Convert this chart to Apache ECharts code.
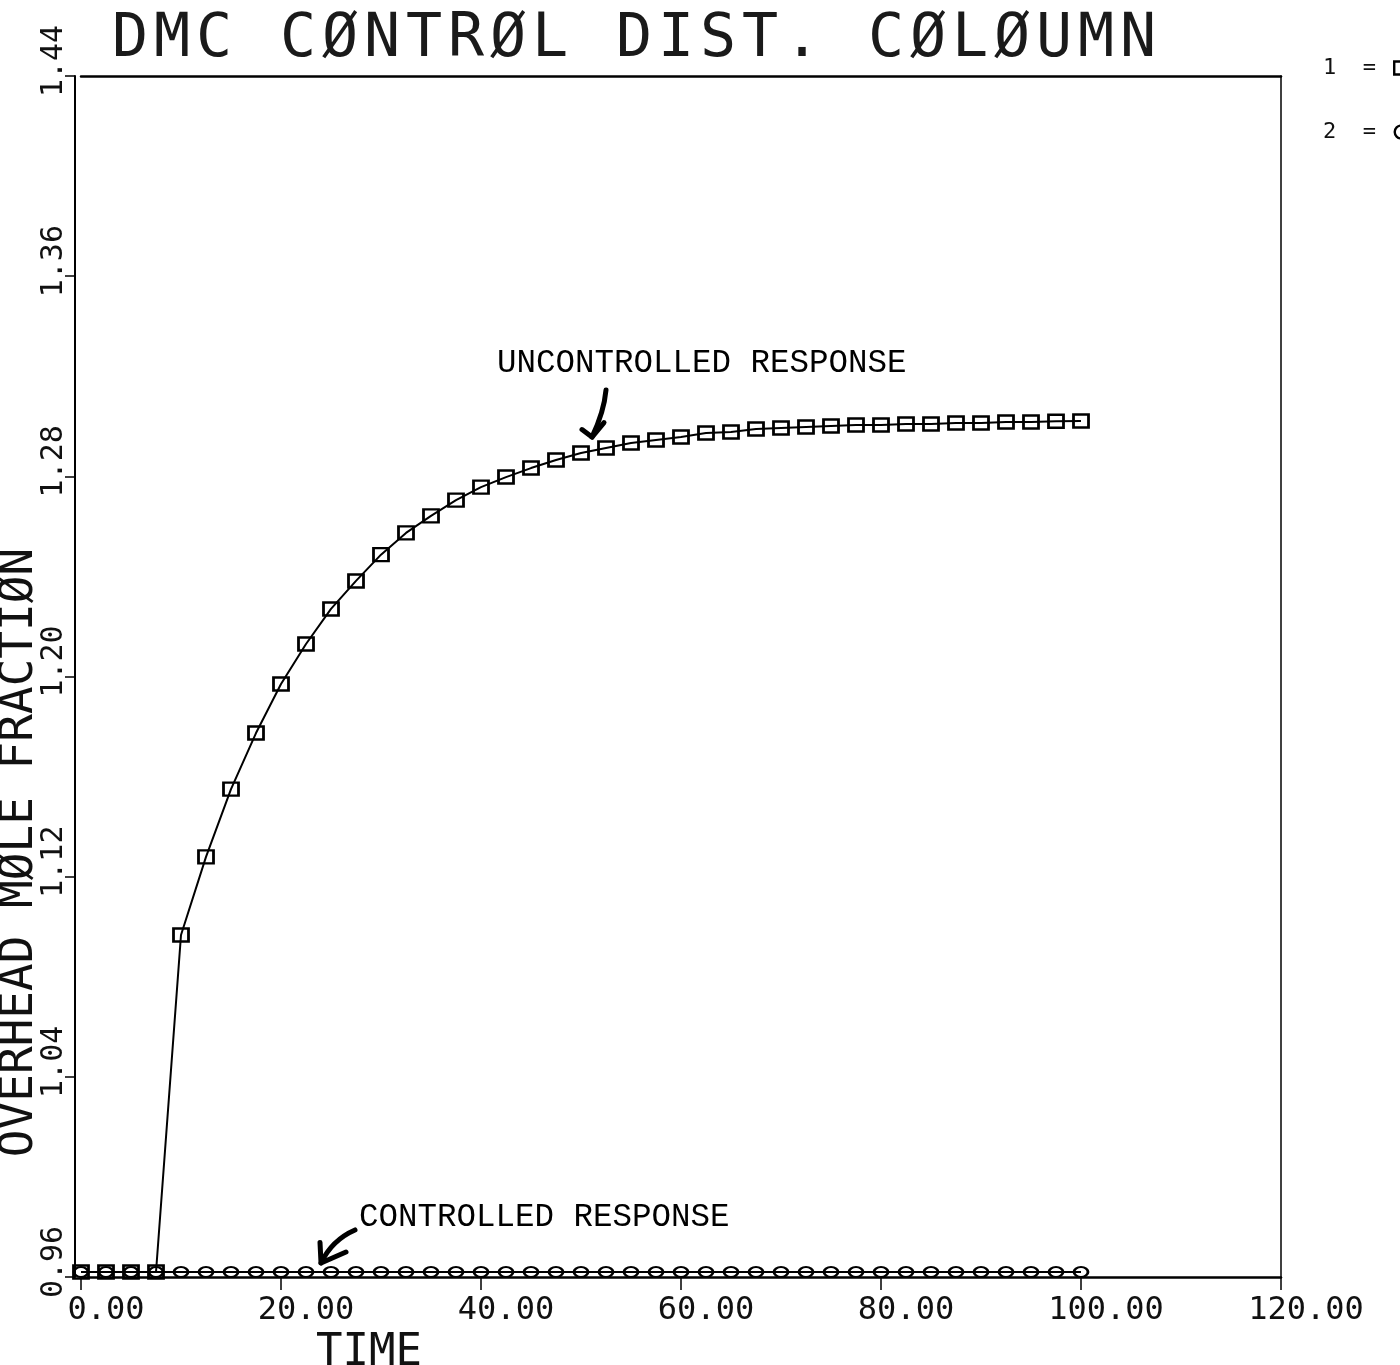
<!DOCTYPE html>
<html>
<head>
<meta charset="utf-8">
<title>DMC CONTROL DIST. COLOUMN</title>
<script src="https://cdn.jsdelivr.net/npm/echarts@6/dist/echarts.min.js"></script>
<style>
  html, body { margin: 0; padding: 0; background: #fff; }
  #chart { width: 1400px; height: 1365px; }
</style>
</head>
<body>
<div id="chart"></div>
<script>
// Sample times (every 2.5 time units)
const timeValues = [0, 2.5, 5, 7.5, 10, 12.5, 15, 17.5, 20, 22.5, 25, 27.5, 30, 32.5, 35, 37.5, 40,
  42.5, 45, 47.5, 50, 52.5, 55, 57.5, 60, 62.5, 65, 67.5, 70, 72.5, 75, 77.5, 80, 82.5, 85, 87.5,
  90, 92.5, 95, 97.5, 100];

// Overhead mole fraction without control (curve 1)
const uncontrolled = [0.962, 0.962, 0.962, 0.962, 1.0967, 1.1279, 1.1550, 1.1774, 1.1970, 1.2130,
  1.2270, 1.2382, 1.2487, 1.2574, 1.2642, 1.2705, 1.2757, 1.2797, 1.2833, 1.2865, 1.2893, 1.2913,
  1.2933, 1.2945, 1.2957, 1.2973, 1.2977, 1.2989, 1.2993, 1.2997, 1.3001, 1.3005, 1.3005, 1.3009,
  1.3009, 1.3013, 1.3013, 1.3017, 1.3017, 1.3020, 1.3021];

// Overhead mole fraction with DMC control (curve 2)
const controlled = [0.962, 0.962, 0.962, 0.962, 0.962, 0.962, 0.962, 0.962, 0.962, 0.962, 0.962,
  0.962, 0.962, 0.962, 0.962, 0.962, 0.962, 0.962, 0.962, 0.962, 0.962, 0.962, 0.962, 0.962,
  0.962, 0.962, 0.962, 0.962, 0.962, 0.962, 0.962, 0.962, 0.962, 0.962, 0.962, 0.962, 0.962,
  0.962, 0.962, 0.962, 0.962];

const seriesNames = ['UNCONTROLLED RESPONSE', 'CONTROLLED RESPONSE'];
const legendLabels = ['1  = ', '2  = '];
const xTickLabels = ['0.00', '20.00', '40.00', '60.00', '80.00', '100.00', '120.00'];
const yTickLabels = ['0.96', '1.04', '1.12', '1.20', '1.28', '1.36', '1.44'];
const chartTitle = 'DMC CØNTRØL DIST. CØLØUMN';

// Annotation callouts, in data units (time, mole fraction)
const upperNote = { text: 'UNCONTROLLED RESPONSE', at: [41.6, 1.3253],
  shaft: [[52.5, 1.3145], [52.3, 1.3057], [51.1, 1.2957]],
  head: [[50.1, 1.2987], [51.1, 1.2957], [52.3, 1.3015]] };
const lowerNote = { text: 'CONTROLLED RESPONSE', at: [27.8, 0.9840],
  shaft: [[27.4, 0.9788], [25.1, 0.9748], [24.0, 0.9656]],
  head: [[23.9, 0.9738], [24.0, 0.9656], [26.5, 0.9700]] };

const plotFont = 'DejaVu Sans Mono';
const noteFont = 'Liberation Mono';

const chart = echarts.init(document.getElementById('chart'), null, { renderer: 'canvas' });

const pairs = (ys) => timeValues.map((t, i) => [t, ys[i]]);
// Plotter-style title: every character sits on a fixed 42px pitch
const pitched = (s) => s.split('').map((c) => '{c|' + c + '}').join('');

chart.setOption({
  animation: false,
  backgroundColor: '#fff',
  title: {
    text: pitched(chartTitle),
    left: 104,
    top: 5,
    textStyle: {
      fontFamily: plotFont, fontSize: 60, fontWeight: 'normal', color: '#1a1a1a',
      rich: { c: { width: 42, align: 'center', fontFamily: plotFont, fontSize: 60, color: '#1a1a1a' } }
    }
  },
  legend: {
    orient: 'vertical',
    left: 1318,
    top: 52,
    align: 'right',
    itemGap: 42,
    itemWidth: 14,
    itemHeight: 13,
    data: [{ name: seriesNames[0], icon: 'rect' }, { name: seriesNames[1], icon: 'circle' }],
    itemStyle: { color: 'rgba(255,255,255,0)', borderColor: '#000', borderWidth: 2.4 },
    formatter: (name) => legendLabels[seriesNames.indexOf(name)],
    textStyle: { fontFamily: plotFont, fontSize: 22, color: '#111' }
  },
  grid: { left: 81, right: 119, top: 76, bottom: 88, containLabel: false, outerBoundsMode: 'none' },
  xAxis: [{
    type: 'value',
    min: 0, max: 120, interval: 20,
    name: 'TIME',
    nameLocation: 'middle',
    nameGap: 46,
    nameTextStyle: { fontFamily: plotFont, fontSize: 44, color: '#111', padding: [0, 624, 0, 0] },
    axisLine: { show: true, onZero: false, lineStyle: { color: '#000', width: 2.5 } },
    axisTick: { show: true, inside: false, length: 13, lineStyle: { color: '#000', width: 1.5 } },
    axisLabel: {
      margin: 18,
      fontFamily: plotFont, fontSize: 32, color: '#111',
      padding: [0, 0, 0, 50],
      formatter: (v) => xTickLabels[Math.round(v / 20)]
    },
    splitLine: { show: false }
  }, {
    type: 'value', position: 'top', min: 0, max: 120,
    axisLine: { show: true, onZero: false, lineStyle: { color: '#000', width: 2.5 } },
    axisTick: { show: false }, axisLabel: { show: false }, splitLine: { show: false }
  }],
  yAxis: [{
    type: 'value',
    min: 0.96, max: 1.44, interval: 0.08,
    offset: 6,
    name: 'OVERHEAD MØLE FRACTIØN',
    nameLocation: 'middle',
    nameRotate: 90,
    nameGap: 32,
    nameMoveOverlap: false,
    nameTextStyle: { fontFamily: plotFont, fontSize: 46, color: '#111', padding: [0, 352, 0, 0] },
    axisLine: { show: true, onZero: false, lineStyle: { color: '#000', width: 2 } },
    axisTick: { show: true, inside: false, length: 10, lineStyle: { color: '#000', width: 1.5 } },
    axisLabel: {
      rotate: 90,
      margin: 6,
      fontFamily: plotFont, fontSize: 30, color: '#111',
      padding: [0, 0, 0, 30],
      formatter: (v) => yTickLabels[Math.round((v - 0.96) / 0.08)]
    },
    splitLine: { show: false }
  }, {
    type: 'value', position: 'right', min: 0.96, max: 1.44,
    axisLine: { show: true, onZero: false, lineStyle: { color: '#000', width: 1.5 } },
    axisTick: { show: false }, axisLabel: { show: false }, splitLine: { show: false }
  }],
  series: [{
    name: seriesNames[0],
    type: 'line',
    data: pairs(uncontrolled),
    symbol: 'rect',
    symbolSize: [15, 13],
    showAllSymbol: true,
    lineStyle: { color: '#000', width: 2 },
    itemStyle: { color: 'rgba(255,255,255,0)', borderColor: '#000', borderWidth: 2.6 },
    z: 3
  }, {
    name: seriesNames[1],
    type: 'line',
    data: pairs(controlled),
    symbol: 'circle',
    symbolSize: [14, 10],
    showAllSymbol: true,
    lineStyle: { color: '#000', width: 2 },
    itemStyle: { color: 'rgba(255,255,255,0)', borderColor: '#000', borderWidth: 2.4 },
    z: 2
  }]
});

// Callout text and hand-drawn style arrows placed in data space
function toPx(p) { return chart.convertToPixel({ gridIndex: 0 }, p); }
function calloutGraphics(note, id) {
  const s = note.shaft.map(toPx);
  const h = note.head.map(toPx);
  const at = toPx(note.at);
  return [{
    type: 'text', id: id + '-text',
    x: at[0], y: at[1],
    style: { text: note.text, fontFamily: noteFont, fontSize: 32.5, fill: '#000',
      textAlign: 'left', textVerticalAlign: 'middle' }
  }, {
    type: 'bezierCurve', id: id + '-shaft',
    shape: { x1: s[0][0], y1: s[0][1], cpx1: s[1][0], cpy1: s[1][1], x2: s[2][0], y2: s[2][1] },
    style: { stroke: '#000', lineWidth: 5, lineCap: 'round', fill: null }
  }, {
    type: 'polyline', id: id + '-head',
    shape: { points: h },
    style: { stroke: '#000', lineWidth: 5, lineCap: 'round', lineJoin: 'round', fill: null }
  }];
}
chart.setOption({ graphic: [...calloutGraphics(upperNote, 'upper'), ...calloutGraphics(lowerNote, 'lower')] });
</script>
</body>
</html>
